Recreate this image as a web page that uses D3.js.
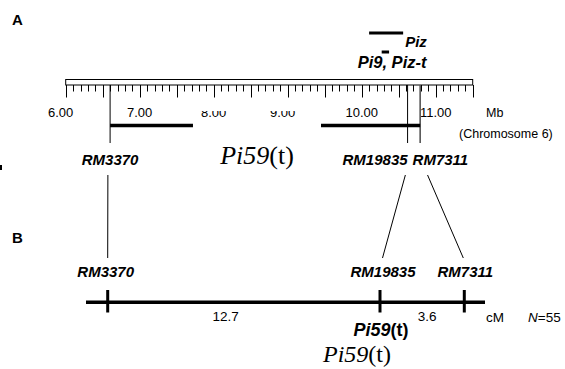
<!DOCTYPE html>
<html>
<head>
	<title>Pi59(t) map</title>
	<script src="https://cdn.jsdelivr.net/npm/d3@7" type="text/javascript"></script>
	<style>
		body { margin: 0; background: #fff; }
		svg text { font-family: "Liberation Sans", Arial, sans-serif; fill: #000; }
		.serif { font-family: "Liberation Serif", "Times New Roman", serif; }
	</style>
</head>
<body>
	<script type="text/javascript">
		// Physical map (Mb, chromosome 6)
		var mbLabels = [6, 7, 8, 9, 10, 11];
		var mbHidden = [8, 9];            // labels half covered in the original
		var markers = ["RM3370", "RM19835", "RM7311"];
		var markerMb = [6.60, 10.62, 10.79];
		var connectorTopMb = [6.57, 10.59, 10.89];
		// Pi59(t) interval, broken for its label
		var intervalMb = [[6.60, 7.72], [9.45, 10.79]];
		var genes = ["Piz", "Pi9, Piz-t"];
		var geneMb = [[10.10, 10.56], [10.27, 10.37]];

		// Genetic map (cM)
		var loci = ["RM3370", "Pi59(t)", "RM7311"];
		var lociCM = [0, 12.7, 16.3];
		var distances = ["12.7", "3.6"];

		var width = 565, height = 369;
		var svg = d3.select("body").append("svg")
			.attr("width", width)
			.attr("height", height);

		var x = d3.scaleLinear().domain([6, 11.5]).range([65.7, 472.7]);
		// drawn map is not strictly to scale
		var g = d3.scaleLinear().domain([-0.95, 0, 12.7, 16.3, 17.2]).range([86, 107.7, 380, 464.3, 485]);

		svg.append("text").text("A").attr("x", 12).attr("y", 25)
			.attr("font-size", "15px").attr("font-weight", "bold");
		svg.append("text").text("B").attr("x", 12).attr("y", 243)
			.attr("font-size", "15px").attr("font-weight", "bold");

		// ruler
		svg.append("rect").attr("x", x(6)).attr("y", 79.5)
			.attr("width", x(11.5) - x(6)).attr("height", 5.5)
			.attr("fill", "none").attr("stroke", "#000").attr("stroke-width", 1);
		var ticks = d3.range(60, 116).map(function(d) { return d / 10; });
		svg.selectAll("line.tick").data(ticks).enter().append("line")
			.attr("class", "tick")
			.attr("x1", function(d) { return Math.round(x(d)) + 0.5; })
			.attr("x2", function(d) { return Math.round(x(d)) + 0.5; })
			.attr("y1", 85)
			.attr("y2", function(d) { return Math.round(d * 10) % 5 == 0 ? 97.5 : 91.5; })
			.attr("stroke", "#000").attr("stroke-width", 1);

		svg.append("clipPath").attr("id", "half")
			.append("rect").attr("x", 0).attr("y", 111).attr("width", width).attr("height", 20);
		svg.selectAll("text.mb").data(mbLabels).enter().append("text")
			.attr("class", "mb")
			.text(function(d) { return d.toFixed(2); })
			.attr("x", function(d) { return x(d) + (d == 6 ? -5 : d == 9 ? -5 : 0); })
			.attr("y", 117)
			.attr("text-anchor", "middle")
			.attr("font-size", "13px")
			.attr("clip-path", function(d) { return mbHidden.indexOf(d) >= 0 ? "url(#half)" : null; });
		svg.append("text").text("Mb").attr("x", 486).attr("y", 117).attr("font-size", "12.5px");
		svg.append("text").text("(Chromosome 6)").attr("x", 459).attr("y", 138).attr("font-size", "12.5px");

		// genes above ruler
		svg.selectAll("line.gene").data(geneMb).enter().append("line")
			.attr("class", "gene")
			.attr("x1", function(d) { return x(d[0]); })
			.attr("x2", function(d) { return x(d[1]); })
			.attr("y1", function(d, i) { return i == 0 ? 33 : 52; })
			.attr("y2", function(d, i) { return i == 0 ? 33 : 52; })
			.attr("stroke", "#000").attr("stroke-width", 3);
		svg.append("text").text(genes[0]).attr("x", x(geneMb[0][1]) + 2).attr("y", 46.5)
			.attr("font-size", "15px").attr("font-weight", "bold").attr("font-style", "italic");
		svg.append("text").text(genes[1]).attr("x", x(geneMb[1][1]) + 3).attr("y", 68)
			.attr("text-anchor", "middle")
			.attr("font-size", "16.5px").attr("font-weight", "bold").attr("font-style", "italic");

		// marker lines on physical map
		svg.selectAll("line.mk").data(markerMb).enter().append("line")
			.attr("class", "mk")
			.attr("x1", function(d) { return x(d); })
			.attr("x2", function(d) { return x(d); })
			.attr("y1", 85).attr("y2", 143)
			.attr("stroke", function(d, i) { return i == 2 ? "#555" : "#000"; })
			.attr("stroke-width", function(d, i) { return i == 2 ? 1.6 : 1; });
		svg.selectAll("line.iv").data(intervalMb).enter().append("line")
			.attr("class", "iv")
			.attr("x1", function(d) { return x(d[0]); })
			.attr("x2", function(d) { return x(d[1]); })
			.attr("y1", 125.5).attr("y2", 125.5)
			.attr("stroke", "#000").attr("stroke-width", 3.5);

		// marker names (top)
		svg.selectAll("text.top").data(markers).enter().append("text")
			.attr("class", "top")
			.text(function(d) { return d; })
			.attr("x", function(d, i) { return i == 2 ? x(markerMb[1]) + 5 : x(markerMb[i]); })
			.attr("y", 165)
			.attr("text-anchor", function(d, i) { return ["middle", "end", "start"][i]; })
			.attr("font-size", "15px").attr("font-weight", "bold").attr("font-style", "italic");

		var t1 = svg.append("text").attr("class", "serif")
			.attr("x", (x(intervalMb[0][1]) + x(intervalMb[1][0])) / 2).attr("y", 164)
			.attr("text-anchor", "middle").attr("font-size", "26px");
		t1.append("tspan").attr("font-style", "italic").text("Pi59");
		t1.append("tspan").text("(t)");

		// tiny mark at left edge
		svg.append("rect").attr("x", 0).attr("y", 165).attr("width", 2).attr("height", 5).attr("fill", "#000");

		// connectors
		var genX = [g(lociCM[0]), g(lociCM[1]) + 2.5, g(lociCM[2]) - 1];
		svg.selectAll("line.conn").data(markers).enter().append("line")
			.attr("class", "conn")
			.attr("x1", function(d, i) { return x(connectorTopMb[i]); })
			.attr("y1", 175)
			.attr("x2", function(d, i) { return genX[i]; })
			.attr("y2", 258)
			.attr("stroke", "#000").attr("stroke-width", 1);

		// genetic map
		svg.append("line")
			.attr("x1", g(-0.95)).attr("x2", g(17.2))
			.attr("y1", 302.3).attr("y2", 302.3)
			.attr("stroke", "#000").attr("stroke-width", 3.5);
		svg.selectAll("line.gt").data(lociCM).enter().append("line")
			.attr("class", "gt")
			.attr("x1", function(d) { return g(d); })
			.attr("x2", function(d) { return g(d); })
			.attr("y1", 290).attr("y2", 312.5)
			.attr("stroke", "#000").attr("stroke-width", 3);

		svg.selectAll("text.bot").data(markers).enter().append("text")
			.attr("class", "bot")
			.text(function(d) { return d; })
			.attr("x", function(d, i) { return g(lociCM[i]) + (i == 1 ? 3 : i == 0 ? -2 : 1); })
			.attr("y", 277)
			.attr("text-anchor", "middle")
			.attr("font-size", "15px").attr("font-weight", "bold").attr("font-style", "italic");

		svg.selectAll("text.dist").data(distances).enter().append("text")
			.attr("class", "dist")
			.text(function(d) { return d; })
			.attr("x", function(d, i) { return i == 0 ? g(5.5) : g(14.5) + 5; })
			.attr("y", 321)
			.attr("text-anchor", "middle")
			.attr("font-size", "13.5px");
		svg.append("text").text("cM").attr("x", 486).attr("y", 321.5).attr("font-size", "13.5px");
		var n = svg.append("text").attr("x", 528).attr("y", 321.5).attr("font-size", "13.5px");
		n.append("tspan").attr("font-style", "italic").text("N");
		n.append("tspan").text("=55");

		var t2 = svg.append("text").attr("x", g(lociCM[1]) + 1).attr("y", 336)
			.attr("text-anchor", "middle").attr("font-size", "18px").attr("font-weight", "bold");
		t2.append("tspan").attr("font-style", "italic").text("Pi59");
		t2.append("tspan").text("(t)");

		var t3 = svg.append("text").attr("class", "serif")
			.attr("x", g(lociCM[1]) - 23).attr("y", 362)
			.attr("text-anchor", "middle").attr("font-size", "24px");
		t3.append("tspan").attr("font-style", "italic").text("Pi59");
		t3.append("tspan").text("(t)");
	</script>
</body>
</html>
